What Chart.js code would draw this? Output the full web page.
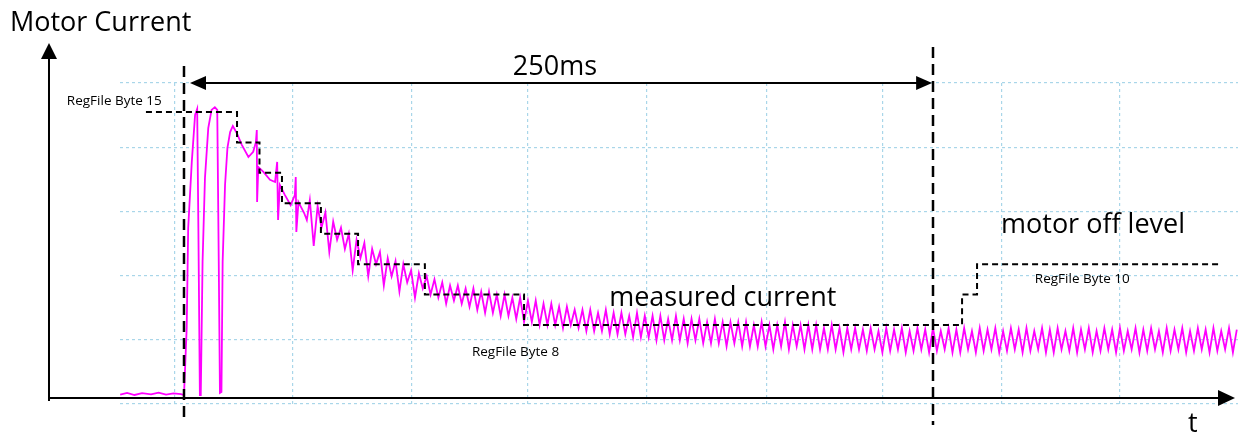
<!DOCTYPE html>
<html>
<head>
<meta charset="utf-8">
<title>Motor Current</title>
<script src="https://cdn.jsdelivr.net/npm/chart.js@4.4.1/dist/chart.umd.min.js"></script>
<style>
  html, body { margin: 0; padding: 0; background: #fff; }
  canvas { display: block; }
</style>
</head>
<body>
<canvas id="chart" width="1238" height="435"></canvas>
<script>
// time in ms (0 = motor start), current in RegFile units (byte N -> N * 10)

// pre-start baseline + start-up transient
const startTimes = [
  -21.3, -19.0, -16.5, -14.0, -11.0, -8.5, -6.0, -3.5, -1.0,
  0, 0.9, 1.4, 2.6, 3.7, 4.4, 4.8, 5.3, 5.6, 6.2, 7.0, 8.1, 9.2, 10.3, 11.1, 11.6,
  12.0, 12.5, 12.9, 13.7, 14.5, 15.4, 16.3, 17.6, 19.3, 21.5, 23.1, 24.0, 24.3, 24.4,
  24.8, 26.5, 28.7, 30.4, 31.1, 31.4, 32.0, 33.7, 35.6, 37.0, 37.3, 37.5, 38.2, 40.1, 41.0
]
const startCurrent = [
  57.1, 57.7, 57.0, 57.6, 57.2, 57.8, 57.1, 57.5, 57.3,
  57.0, 79.0, 111.9, 133.6, 149.0, 151.0, 111.9, 57.0, 57.0, 100.7, 128.3, 144.7, 150.7, 151.6, 150.7, 100.7,
  57.7, 58.0, 100.7, 126.0, 138.2, 143.4, 145.4, 143.1, 139.2, 135.2, 136.9, 140.1, 144.1, 120.4,
  131.9, 130.3, 127.7, 127.0, 133.6, 114.5, 126.0, 122.7, 119.4, 122.7, 128.6, 110.6, 120.4, 116.8, 114.5
]

// ripple part, one sample every half ripple period
const rippleStartMs = 42.0
const rippleSampleMs = 1.3
const rippleCurrent = [
  121, 106, 119, 112, 117, 104, 114, 108, 112, 105,
  110, 98, 108, 102, 107, 96, 105, 100, 104, 93,
  102, 96, 101, 91, 100, 94, 98, 89, 97, 92,
  96, 90, 95, 89, 94, 87, 93, 88, 93, 87,
  92, 86, 92, 85, 91, 84, 91, 84, 90, 83,
  90, 83, 89, 82, 89, 81, 88, 81, 88, 80,
  87, 80, 87, 80, 86, 79, 86, 80, 85, 79,
  85, 78, 85, 78, 84, 78, 85, 77, 84, 77,
  84, 77, 83, 76, 84, 76, 83, 76, 83, 75,
  83, 75, 82, 75, 83, 75, 82, 74, 82, 75,
  82, 74, 81, 74, 82, 74, 81, 73, 81, 74,
  81, 73, 81, 73, 80, 73, 81, 73, 80, 72,
  80, 73, 81, 72, 80, 73, 80, 72, 80, 72,
  80, 72, 79, 72, 80, 72, 79, 71, 79, 72,
  79, 72, 78.5, 71.5, 79, 72, 78, 71, 79, 71.5,
  78.5, 72, 79, 71, 78, 71.5, 79, 72, 78.5, 71,
  79, 71.5, 78, 72, 79, 71, 78.5, 71, 79, 72,
  78, 71, 79, 71.5, 78.5, 72, 79, 71, 78, 71.5,
  79, 72, 78.5, 71, 79, 71.5, 78, 72, 79, 71,
  78.5, 71, 79, 72, 78, 71.5, 79, 71, 78.5, 72,
  79, 71, 78, 71.5, 79, 72, 78.5, 71, 79, 71.5,
  78, 72, 79, 71, 78.5, 71.5, 79, 72, 78, 71,
  79, 71.5, 78.5, 72, 79, 71, 78, 71.5, 79, 72,
  78.5, 71, 79, 71.5, 78, 72, 79, 71, 78.5
]

// RegFile threshold steps (dashed)
const stepTimes = [-12.7, 17.7, 25.2, 32.7, 45.7, 58.1, 80.4, 113.5, 259.7, 264.7, 345.8]
const stepLevels = [150, 140, 130, 120, 110, 100, 90, 80, 90, 100, 100]

// scope grid
const gridTimes = [-3.0, 36.4, 76.1, 114.8, 154.5, 194.3, 233.3, 273.0, 312.4]

const signal = startTimes.map( ( t, i ) => ( { x: t, y: startCurrent[i] } ) )
rippleCurrent.forEach( ( v, i ) => signal.push( { x: rippleStartMs + i * rippleSampleMs, y: v } ) )
const steps = stepTimes.map( ( t, i ) => ( { x: t, y: stepLevels[i] } ) )

const FONT = '"Open Sans", "Liberation Sans", sans-serif'

// text + markers, anchored in data units
const notes = {
  markers: [ { t: 0, from: 48.8, to: 165.1 }, { t: 250, from: 47.1, to: 171.4 } ],
  span: { from: 2.0, to: 249.7, v: 159.5, label: '250ms', labelT: 123.8, labelV: 162.2 },
  axisT: -45.06, axisV: 56, yTop: 172.7, xEnd: 350.8,
  big: [
    { text: 'Motor Current', t: -58.1, v: 176.6 },
    { text: 'measured current', t: 141.9, v: 86.2 },
    { text: 'motor off level', t: 272.7, v: 110.2 },
    { text: 't', t: 335.1, v: 44.8 }
  ],
  small: [
    { text: 'RegFile Byte 15', t: -39.1, v: 152.3 },
    { text: 'RegFile Byte 8', t: 96.1, v: 69.8 },
    { text: 'RegFile Byte 10', t: 284.0, v: 93.8 }
  ]
}

const arrowHead = ( ctx, x, y, angle, len, half ) => {
  ctx.save()
  ctx.translate( x, y )
  ctx.rotate( angle )
  ctx.beginPath()
  ctx.moveTo( 0, 0 )
  ctx.lineTo( -len, -half )
  ctx.lineTo( -len, half )
  ctx.closePath()
  ctx.fill()
  ctx.restore()
}

const overlay = {
  id: 'overlay',
  afterDatasetsDraw( chart ) {
    const { ctx, scales: { x, y } } = chart
    const px = ( t ) => x.getPixelForValue( t )
    const py = ( v ) => y.getPixelForValue( v )
    ctx.save()
    ctx.strokeStyle = '#000'
    ctx.fillStyle = '#000'

    // axes with arrows
    ctx.lineWidth = 2
    ctx.setLineDash( [] )
    ctx.beginPath()
    ctx.moveTo( px( notes.axisT ), py( notes.axisV - 1 ) )
    ctx.lineTo( px( notes.axisT ), py( notes.yTop ) + 14 )
    ctx.moveTo( px( notes.axisT ), py( notes.axisV ) )
    ctx.lineTo( px( notes.xEnd ) - 14, py( notes.axisV ) )
    ctx.stroke()
    arrowHead( ctx, px( notes.axisT ), py( notes.yTop ), -Math.PI / 2, 16, 8 )
    arrowHead( ctx, px( notes.xEnd ), py( notes.axisV ), 0, 17, 8 )

    // dashed time markers
    ctx.lineWidth = 2.5
    ctx.setLineDash( [ 11, 6 ] )
    notes.markers.forEach( ( m ) => {
      ctx.beginPath()
      ctx.moveTo( px( m.t ), py( m.to ) )
      ctx.lineTo( px( m.t ), py( m.from ) )
      ctx.stroke()
    } )

    // 250ms span arrow
    const s = notes.span
    ctx.lineWidth = 2
    ctx.setLineDash( [] )
    ctx.beginPath()
    ctx.moveTo( px( s.from ) + 12, py( s.v ) )
    ctx.lineTo( px( s.to ) - 12, py( s.v ) )
    ctx.stroke()
    arrowHead( ctx, px( s.from ), py( s.v ), Math.PI, 16, 7 )
    arrowHead( ctx, px( s.to ), py( s.v ), 0, 16, 7 )

    ctx.font = `27px ${FONT}`
    ctx.textBaseline = 'alphabetic'
    ctx.textAlign = 'center'
    ctx.fillText( s.label, px( s.labelT ), py( s.labelV ) )

    ctx.textAlign = 'left'
    notes.big.forEach( ( n ) => ctx.fillText( n.text, px( n.t ), py( n.v ) ) )

    ctx.font = `13.5px ${FONT}`
    notes.small.forEach( ( n ) => ctx.fillText( n.text, px( n.t ), py( n.v ) ) )
    ctx.restore()
  }
}

const config = {
  type: 'line',
  data: {
    datasets: [
      {
        label: 'RegFile level',
        data: steps,
        stepped: true,
        borderColor: '#000',
        borderWidth: 2,
        borderDash: [ 6, 4 ],
        pointRadius: 0,
        fill: false
      },
      {
        label: 'measured current',
        data: signal,
        borderColor: '#ff00ff',
        borderWidth: 1.8,
        pointRadius: 0,
        tension: 0,
        fill: false
      }
    ]
  },
  options: {
    responsive: false,
    animation: false,
    events: [],
    layout: { padding: { left: 120, right: 0, top: 83, bottom: 31 } },
    plugins: { legend: { display: false }, tooltip: { enabled: false } },
    scales: {
      x: {
        type: 'linear',
        min: -21.36,
        max: 351.8,
        afterBuildTicks: ( scale ) => { scale.ticks = gridTimes.map( ( v ) => ( { value: v } ) ) },
        ticks: { display: false },
        grid: { color: '#a9d6e9', lineWidth: 1.2, drawTicks: false },
        border: { display: false, dash: [ 3, 3 ] }
      },
      y: {
        type: 'linear',
        min: 54.04,
        max: 159.53,
        ticks: { display: false, count: 6 },
        grid: { color: '#a9d6e9', lineWidth: 1.2, drawTicks: false },
        border: { display: false, dash: [ 3, 3 ] }
      }
    }
  },
  plugins: [ overlay ]
}

new Chart( document.getElementById( 'chart' ), config )
</script>
</body>
</html>
